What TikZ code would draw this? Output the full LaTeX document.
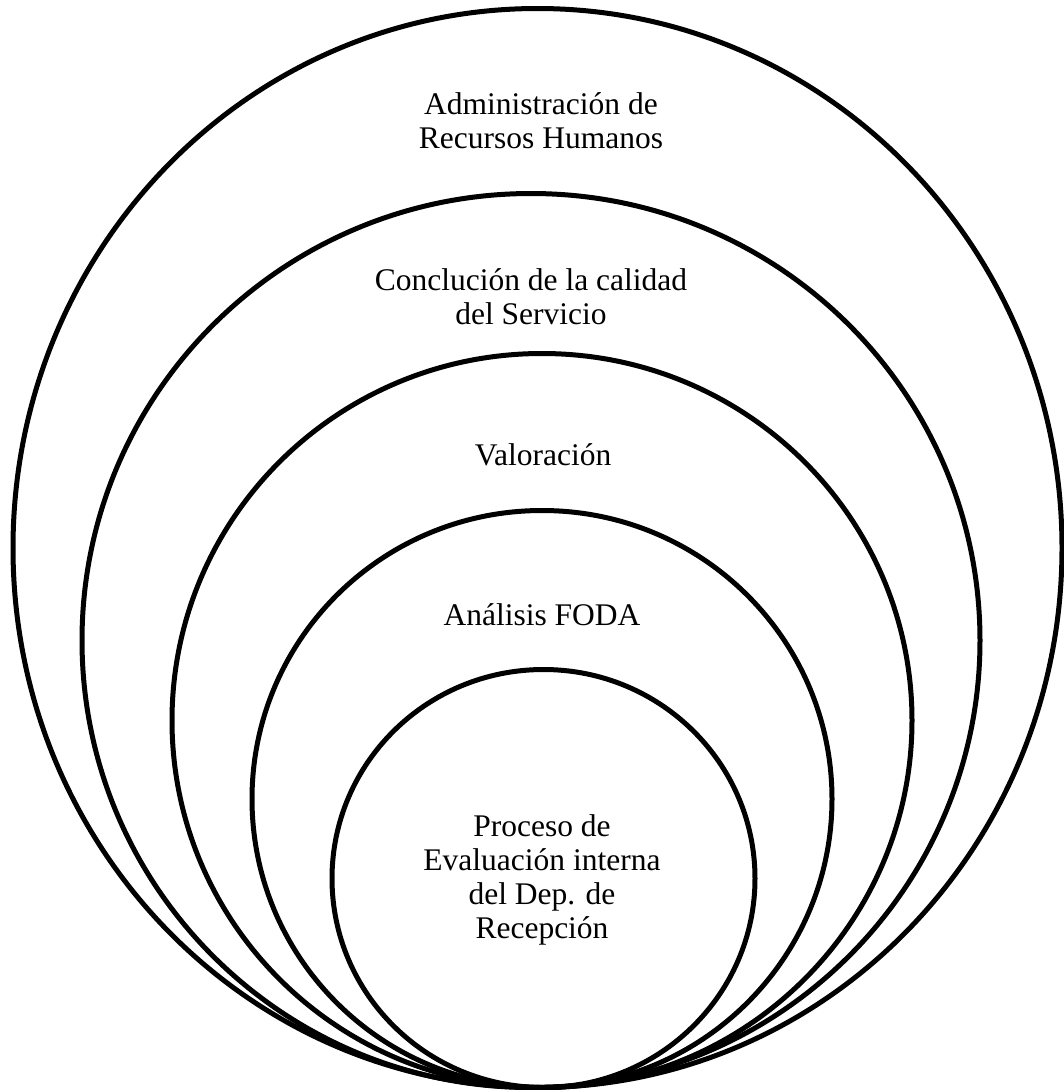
\documentclass[tikz,border=0pt]{standalone}
\usepackage{fontspec}
\setmainfont{Liberation Serif}
\begin{document}
\begin{tikzpicture}[x=1pt,y=-1pt,
  ring/.style={line width=5pt,draw=black},
  lbl/.style={align=center,inner sep=0pt,font=\fontsize{31.5}{34}\selectfont}]
\useasboundingbox (0,0) rectangle (1064,1090);
\draw[ring] (537.5,548) ellipse [x radius=524.5, y radius=539.5];
\draw[ring] (531,640.5) ellipse [x radius=449, y radius=447];
\draw[ring] (542,720.5) ellipse [x radius=370, y radius=367];
\draw[ring] (542,799) ellipse [x radius=290, y radius=288.5];
\draw[ring] (543.5,878.5) ellipse [x radius=211.5, y radius=209];
\node[lbl] (rrhh) at (541,121) {Administración de\\Recursos Humanos};
\node[lbl] (concl) at (531,297) {Conclución de la calidad\\del Servicio};
\node[lbl] (val) at (543,455) {Valoración};
\node[lbl] (foda) at (542,615) {Análisis FODA};
\node[lbl] (proc) at (542,880) {Proceso de\\Evaluación interna\\del Dep. de\\Recepción};
\end{tikzpicture}
\end{document}
